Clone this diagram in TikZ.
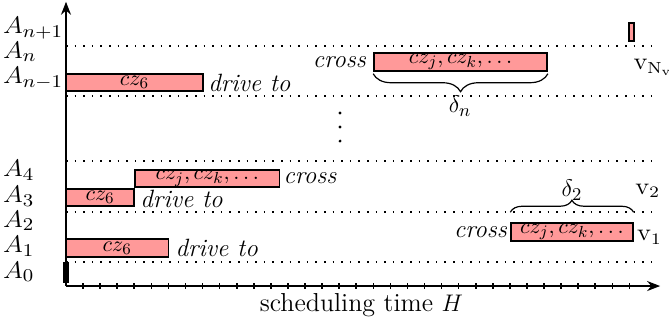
\documentclass[tikz,border=0pt]{standalone}
\usepackage{graphicx}
\usetikzlibrary{arrows.meta,positioning,fit,decorations.pathreplacing}

\tikzset{
  job/.style={draw, line width=0.8pt, fill=red!40, inner sep=0pt},
  jobtext/.style={font=\fontsize{11}{13}\selectfont, inner sep=0pt},
  act/.style={font=\fontsize{12.5}{15}\selectfont\itshape, inner sep=1.5pt},
  row/.style={anchor=west, inner sep=0pt, font=\fontsize{12.5}{14}\selectfont},
  veh/.style={anchor=west, inner sep=0pt, font=\fontsize{12}{14}\selectfont},
  sep line/.style={line width=0.8pt, dash pattern=on 0.8pt off 3.5pt},
  brace/.style={decorate, line width=0.6pt},
}
\newcommand{\widelab}[1]{\scalebox{1.12}[1]{$#1$}}

\begin{document}
\begin{tikzpicture}[x=0.3cm, y=0.45cm]
    \useasboundingbox (-3.866,-1.60) rectangle (35.32,11.17);

    % dotted separators
    \foreach \y in {0.94,2.89,4.88,7.42,9.38}
      \draw[sep line] (0,\y) -- (34.7,\y);

    % start of the schedule, under the axis
    \node[job, fit={(-0.13,0.16) (0.13,0.9)}] (s0) {};

    % axes
    \coordinate (O)    at (0,0);
    \coordinate (tmax) at (34.8,0);
    \coordinate (ymax) at (0,11.1);
    \draw[line width=0.9pt, -{Stealth[length=6.5pt,width=5pt]}] (O) -- (tmax);
    \draw[line width=0.9pt, -{Stealth[length=6.5pt,width=5pt]}] (O) -- (ymax);
    \foreach \i in {1,...,33}
      \draw[line width=0.8pt] (\i,-0.1) -- (\i,0.1);
    \node[font=\fontsize{13}{15}\selectfont] (tlabel) at (17.3,-0.75) {scheduling time $H$};

    % rows
    \foreach \i/\y in {0/0.56,1/1.56,2/2.54,3/3.51,4/4.53}
      \node[row] (A\i) at (-3.7,\y) {\widelab{A_{\i}}};
    \node[row] (Anm) at (-3.7,8.12)  {\widelab{A_{n-1}}};
    \node[row] (An)  at (-3.7,9.14)  {\widelab{A_n}};
    \node[row] (Anp) at (-3.7,10.07) {\widelab{A_{n+1}}};

    \foreach \y in {5.66,6.21,6.76}
      \fill (16.05,\y) circle (0.8pt);

    % vehicle v1
    \node[job, fit={(0,1.13) (6,1.84)}] (s1) {};
    \node[jobtext] (s1t) at (s1.center) {$cz_6$};
    \node[act, right=1.5pt of s1] (d1) {drive to};
    \node[job, fit={(26.07,1.76) (33.2,2.46)}] (sv1) {};
    \node[jobtext] (sv1t) at (sv1.center) {$cz_j,cz_k,\ldots$};
    \node[act, left=0pt of sv1] (cv1) {cross};
    \draw[brace, decoration={brace, amplitude=6pt}]
      ([yshift=5pt]sv1.north west) -- ([yshift=5pt]sv1.north east);
    \node[font=\fontsize{12.5}{14}\selectfont] (delta2) at (29.64,3.75) {$\delta_2$};
    \node[veh] (v1) at (33.43,1.91) {\widelab{\mathrm{v}_1}};

    % vehicle v2
    \node[job, fit={(0,3.13) (4,3.79)}] (s3) {};
    \node[jobtext] (s3t) at (s3.center) {$cz_6$};
    \node[act, right=1pt of s3, yshift=-1pt] (d3) {drive to};
    \node[job, fit={(4.05,3.87) (12.5,4.53)}] (s4) {};
    \node[jobtext] (s4t) at (s4.center) {$cz_j,cz_k,\ldots$};
    \node[act, right=0pt of s4] (c4) {cross};
    \node[veh] (v2) at (33.33,3.71) {\widelab{\mathrm{v}_2}};

    % vehicle vN
    \node[job, fit={(0,7.62) (8.03,8.28)}] (snm) {};
    \node[jobtext] (snmt) at (snm.center) {$cz_6$};
    \node[act, right=0.5pt of snm] (dnm) {drive to};
    \node[job, fit={(18.04,8.4) (28.18,9.1)}] (sn) {};
    \node[jobtext] (snt) at (sn.center) {$cz_j,cz_k,\ldots$};
    \node[act, left=2pt of sn] (cn) {cross};
    \draw[brace, decoration={brace, amplitude=9pt, mirror}]
      ([yshift=-1pt]sn.south west) -- ([yshift=-1pt]sn.south east);
    \node[font=\fontsize{12.5}{14}\selectfont] (deltan) at (23.08,7.03) {$\delta_n$};
    \node[job, fit={(32.98,9.57) (33.27,10.27)}] (snp) {};
    \node[veh] (vN) at (33.22,8.55) {\widelab{\mathrm{v}_{\mathrm{N}_\mathrm{v}}}};
\end{tikzpicture}
\end{document}
